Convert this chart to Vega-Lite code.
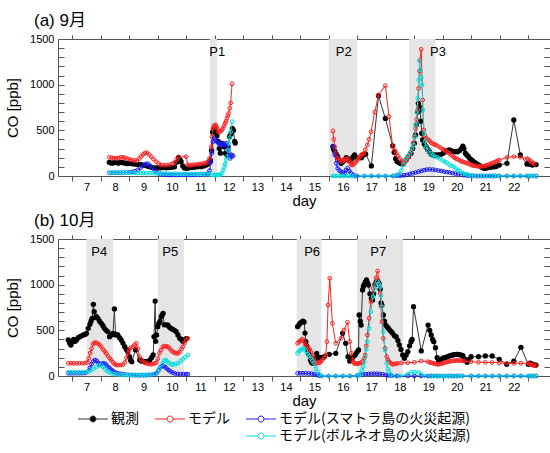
{
  "$schema": "https://vega.github.io/schema/vega-lite/v6.json",
  "padding": {"left": 5, "top": 11, "right": 0, "bottom": 0},
  "background": "white",
  "config": {
    "font": "Liberation Sans",
    "view": {"stroke": "#555555", "strokeWidth": 1},
    "axis": {"grid": false, "domain": false, "labelFont": "Liberation Sans", "labelFontSize": 11, "labelColor": "#000000", "tickColor": "#555555", "tickWidth": 1, "titleFont": "Liberation Sans", "titleFontSize": 15, "titleFontWeight": "normal", "titleColor": "#000000"},
    "title": {"font": "Liberation Sans, Noto Sans CJK JP", "fontSize": 17, "fontWeight": "normal", "anchor": "start", "frame": "group", "color": "#000000"},
    "legend": {"title": null, "orient": "none", "legendX": 16, "legendY": 373, "columns": 3, "direction": "horizontal",
               "symbolType": "M-5,0L-1,0M1,0L5,0M-1,0A1,1,0,1,0,1,0A1,1,0,1,0,-1,0", "symbolSize": 36, "symbolStrokeWidth": 1, "symbolOffset": 12,
               "labelOffset": 11, "labelFont": "Noto Sans CJK JP", "labelFontSize": 14, "labelColor": "#000000", "labelLimit": 400,
               "columnPadding": 12, "rowPadding": 3}
  },
  "datasets": {
    "sa": [
      {"d1": 11.83, "d2": 12.08, "lx": 12.09, "lab": "P1"},
      {"d1": 16.0, "d2": 17.0, "lx": 16.53, "lab": "P2"},
      {"d1": 18.83, "d2": 19.75, "lx": 19.84, "lab": "P3"}
    ],
    "sb": [
      {"d1": 7.5, "d2": 8.44, "lx": 7.95, "lab": "P4"},
      {"d1": 10.0, "d2": 10.92, "lx": 10.44, "lab": "P5"},
      {"d1": 14.88, "d2": 15.75, "lx": 15.42, "lab": "P6"},
      {"d1": 17.0, "d2": 18.61, "lx": 17.74, "lab": "P7"}
    ],
    "a": [
      {"s":"o","g":1,"d":8.30,"v":150},{"s":"o","g":1,"d":8.38,"v":140},{"s":"o","g":1,"d":8.46,"v":145},{"s":"o","g":1,"d":8.54,"v":150},{"s":"o","g":1,"d":8.62,"v":140},{"s":"o","g":1,"d":8.70,"v":150},{"s":"o","g":1,"d":8.78,"v":145},{"s":"o","g":1,"d":8.86,"v":140},{"s":"o","g":1,"d":8.94,"v":135},{"s":"o","g":1,"d":9.02,"v":140},{"s":"o","g":1,"d":9.10,"v":135},{"s":"o","g":1,"d":9.19,"v":131},{"s":"o","g":1,"d":9.27,"v":128},{"s":"o","g":1,"d":9.35,"v":125},{"s":"o","g":1,"d":9.42,"v":124},{"s":"o","g":1,"d":9.50,"v":118},{"s":"o","g":1,"d":9.60,"v":113},{"s":"o","g":1,"d":9.68,"v":105},{"s":"o","g":1,"d":9.77,"v":95},{"s":"o","g":1,"d":9.85,"v":90},{"s":"o","g":1,"d":9.93,"v":88},{"s":"o","g":1,"d":10.00,"v":88},{"s":"o","g":1,"d":10.10,"v":90},{"s":"o","g":1,"d":10.20,"v":92},{"s":"o","g":1,"d":10.30,"v":90},{"s":"o","g":1,"d":10.40,"v":92},{"s":"o","g":1,"d":10.50,"v":95},{"s":"o","g":1,"d":10.59,"v":100},{"s":"o","g":1,"d":10.66,"v":150},{"s":"o","g":1,"d":10.73,"v":204},{"s":"o","g":1,"d":10.78,"v":180},{"s":"o","g":1,"d":10.82,"v":157},{"s":"o","g":1,"d":10.88,"v":110},{"s":"o","g":1,"d":10.94,"v":88},{"s":"o","g":1,"d":11.02,"v":85},{"s":"o","g":1,"d":11.10,"v":90},{"s":"o","g":1,"d":11.18,"v":92},{"s":"o","g":1,"d":11.29,"v":95},{"s":"o","g":1,"d":11.40,"v":100},{"s":"o","g":1,"d":11.53,"v":102},{"s":"o","g":1,"d":11.62,"v":110},{"s":"o","g":1,"d":11.70,"v":120},{"s":"o","g":1,"d":11.76,"v":131},{"s":"o","g":1,"d":11.81,"v":150},{"s":"o","g":1,"d":11.85,"v":170},{"s":"o","g":1,"d":11.89,"v":280},{"s":"o","g":1,"d":11.93,"v":480},{"s":"o","g":1,"d":11.97,"v":510},{"s":"o","g":1,"d":12.00,"v":520},{"s":"o","g":1,"d":12.04,"v":480},{"s":"o","g":1,"d":12.08,"v":440},{"s":"o","g":1,"d":12.12,"v":380},{"s":"o","g":1,"d":12.16,"v":300},{"s":"o","g":1,"d":12.20,"v":250},{"s":"o","g":1,"d":12.24,"v":360},{"s":"o","g":1,"d":12.28,"v":340},{"s":"o","g":1,"d":12.33,"v":320},{"s":"o","g":1,"d":12.38,"v":250},{"s":"o","g":1,"d":12.43,"v":230},{"s":"o","g":1,"d":12.47,"v":320},{"s":"o","g":1,"d":12.52,"v":430},{"s":"o","g":1,"d":12.57,"v":460},{"s":"o","g":1,"d":12.62,"v":520},{"s":"o","g":1,"d":12.66,"v":500},{"s":"o","g":1,"d":12.70,"v":380},{"s":"o","g":1,"d":12.72,"v":360},
      {"s":"o","g":2,"d":16.15,"v":321},{"s":"o","g":2,"d":16.18,"v":290},{"s":"o","g":2,"d":16.22,"v":266},{"s":"o","g":2,"d":16.27,"v":240},{"s":"o","g":2,"d":16.32,"v":212},{"s":"o","g":2,"d":16.38,"v":170},{"s":"o","g":2,"d":16.44,"v":139},{"s":"o","g":2,"d":16.50,"v":160},{"s":"o","g":2,"d":16.56,"v":175},{"s":"o","g":2,"d":16.62,"v":200},{"s":"o","g":2,"d":16.66,"v":190},{"s":"o","g":2,"d":16.70,"v":175},{"s":"o","g":2,"d":16.75,"v":170},{"s":"o","g":2,"d":16.80,"v":185},{"s":"o","g":2,"d":16.86,"v":210},{"s":"o","g":2,"d":16.91,"v":230},{"s":"o","g":2,"d":16.96,"v":205},{"s":"o","g":2,"d":17.15,"v":200},{"s":"o","g":2,"d":17.22,"v":230},{"s":"o","g":2,"d":17.30,"v":240},{"s":"o","g":2,"d":17.50,"v":110},{"s":"o","g":2,"d":17.75,"v":880},{"s":"o","g":2,"d":17.99,"v":630},{"s":"o","g":2,"d":18.25,"v":330},{"s":"o","g":2,"d":18.30,"v":260},{"s":"o","g":2,"d":18.35,"v":190},{"s":"o","g":2,"d":18.40,"v":160},{"s":"o","g":2,"d":18.45,"v":150},{"s":"o","g":2,"d":18.50,"v":140},{"s":"o","g":2,"d":18.55,"v":135},{"s":"o","g":2,"d":18.60,"v":131},{"s":"o","g":2,"d":18.65,"v":150},{"s":"o","g":2,"d":18.72,"v":175},{"s":"o","g":2,"d":18.80,"v":210},{"s":"o","g":2,"d":18.89,"v":248},{"s":"o","g":2,"d":18.95,"v":300},{"s":"o","g":2,"d":19.01,"v":358},{"s":"o","g":2,"d":19.05,"v":450},{"s":"o","g":2,"d":19.08,"v":560},{"s":"o","g":2,"d":19.12,"v":700},{"s":"o","g":2,"d":19.15,"v":796},{"s":"o","g":2,"d":19.18,"v":760},{"s":"o","g":2,"d":19.21,"v":723},{"s":"o","g":2,"d":19.24,"v":600},{"s":"o","g":2,"d":19.27,"v":467},{"s":"o","g":2,"d":19.30,"v":394},{"s":"o","g":2,"d":19.36,"v":350},{"s":"o","g":2,"d":19.42,"v":321},{"s":"o","g":2,"d":19.48,"v":290},{"s":"o","g":2,"d":19.54,"v":266},{"s":"o","g":2,"d":19.60,"v":240},{"s":"o","g":2,"d":19.66,"v":230},{"s":"o","g":2,"d":19.72,"v":225},{"s":"o","g":2,"d":19.77,"v":230},{"s":"o","g":2,"d":19.85,"v":230},{"s":"o","g":2,"d":19.92,"v":235},{"s":"o","g":2,"d":20.00,"v":245},{"s":"o","g":2,"d":20.06,"v":260},{"s":"o","g":2,"d":20.12,"v":275},{"s":"o","g":2,"d":20.18,"v":280},{"s":"o","g":2,"d":20.24,"v":285},{"s":"o","g":2,"d":20.30,"v":275},{"s":"o","g":2,"d":20.36,"v":270},{"s":"o","g":2,"d":20.42,"v":266},{"s":"o","g":2,"d":20.47,"v":266},{"s":"o","g":2,"d":20.53,"v":266},{"s":"o","g":2,"d":20.60,"v":280},{"s":"o","g":2,"d":20.66,"v":300},{"s":"o","g":2,"d":20.71,"v":328},{"s":"o","g":2,"d":20.75,"v":300},{"s":"o","g":2,"d":20.80,"v":250},{"s":"o","g":2,"d":20.85,"v":230},{"s":"o","g":2,"d":20.90,"v":215},{"s":"o","g":2,"d":20.95,"v":193},{"s":"o","g":2,"d":21.00,"v":180},{"s":"o","g":2,"d":21.06,"v":165},{"s":"o","g":2,"d":21.12,"v":150},{"s":"o","g":2,"d":21.18,"v":139},{"s":"o","g":2,"d":21.24,"v":125},{"s":"o","g":2,"d":21.29,"v":115},{"s":"o","g":2,"d":21.35,"v":100},{"s":"o","g":2,"d":21.41,"v":90},{"s":"o","g":2,"d":21.47,"v":84},{"s":"o","g":2,"d":21.53,"v":88},{"s":"o","g":2,"d":21.59,"v":90},{"s":"o","g":2,"d":21.65,"v":95},{"s":"o","g":2,"d":21.71,"v":98},{"s":"o","g":2,"d":21.76,"v":100},{"s":"o","g":2,"d":21.82,"v":102},{"s":"o","g":2,"d":21.88,"v":105},{"s":"o","g":2,"d":21.99,"v":120},{"s":"o","g":2,"d":22.26,"v":139},{"s":"o","g":2,"d":22.50,"v":613},{"s":"o","g":2,"d":22.73,"v":230},{"s":"o","g":2,"d":22.96,"v":131},{"s":"o","g":2,"d":23.01,"v":140},{"s":"o","g":2,"d":23.06,"v":130},{"s":"o","g":2,"d":23.11,"v":125},{"s":"o","g":2,"d":23.16,"v":120},{"s":"o","g":2,"d":23.22,"v":131},{"s":"o","g":2,"d":23.28,"v":125},
      {"s":"m","g":1,"d":8.30,"v":204},{"s":"m","g":1,"d":8.38,"v":200},{"s":"m","g":1,"d":8.46,"v":195},{"s":"m","g":1,"d":8.54,"v":193},{"s":"m","g":1,"d":8.62,"v":198},{"s":"m","g":1,"d":8.70,"v":204},{"s":"m","g":1,"d":8.78,"v":204},{"s":"m","g":1,"d":8.86,"v":200},{"s":"m","g":1,"d":8.94,"v":190},{"s":"m","g":1,"d":9.02,"v":180},{"s":"m","g":1,"d":9.10,"v":175},{"s":"m","g":1,"d":9.19,"v":170},{"s":"m","g":1,"d":9.27,"v":168},{"s":"m","g":1,"d":9.35,"v":190},{"s":"m","g":1,"d":9.42,"v":215},{"s":"m","g":1,"d":9.48,"v":235},{"s":"m","g":1,"d":9.55,"v":250},{"s":"m","g":1,"d":9.62,"v":255},{"s":"m","g":1,"d":9.70,"v":235},{"s":"m","g":1,"d":9.77,"v":212},{"s":"m","g":1,"d":9.85,"v":185},{"s":"m","g":1,"d":9.95,"v":157},{"s":"m","g":1,"d":10.04,"v":135},{"s":"m","g":1,"d":10.12,"v":120},{"s":"m","g":1,"d":10.22,"v":118},{"s":"m","g":1,"d":10.32,"v":120},{"s":"m","g":1,"d":10.42,"v":125},{"s":"m","g":1,"d":10.52,"v":135},{"s":"m","g":1,"d":10.59,"v":146},{"s":"m","g":1,"d":10.66,"v":180},{"s":"m","g":1,"d":10.73,"v":208},{"s":"m","g":1,"d":11.00,"v":212},{"s":"m","g":1,"d":11.06,"v":120},{"s":"m","g":1,"d":11.12,"v":118},{"s":"m","g":1,"d":11.18,"v":120},{"s":"m","g":1,"d":11.25,"v":122},{"s":"m","g":1,"d":11.33,"v":125},{"s":"m","g":1,"d":11.41,"v":128},{"s":"m","g":1,"d":11.48,"v":132},{"s":"m","g":1,"d":11.56,"v":135},{"s":"m","g":1,"d":11.64,"v":139},{"s":"m","g":1,"d":11.70,"v":145},{"s":"m","g":1,"d":11.76,"v":157},{"s":"m","g":1,"d":11.82,"v":193},{"s":"m","g":1,"d":11.88,"v":321},{"s":"m","g":1,"d":11.91,"v":431},{"s":"m","g":1,"d":11.94,"v":520},{"s":"m","g":1,"d":11.97,"v":547},{"s":"m","g":1,"d":12.00,"v":555},{"s":"m","g":1,"d":12.03,"v":558},{"s":"m","g":1,"d":12.06,"v":540},{"s":"m","g":1,"d":12.09,"v":522},{"s":"m","g":1,"d":12.13,"v":485},{"s":"m","g":1,"d":12.17,"v":480},{"s":"m","g":1,"d":12.21,"v":490},{"s":"m","g":1,"d":12.25,"v":505},{"s":"m","g":1,"d":12.29,"v":522},{"s":"m","g":1,"d":12.33,"v":550},{"s":"m","g":1,"d":12.37,"v":577},{"s":"m","g":1,"d":12.40,"v":600},{"s":"m","g":1,"d":12.43,"v":632},{"s":"m","g":1,"d":12.46,"v":660},{"s":"m","g":1,"d":12.49,"v":686},{"s":"m","g":1,"d":12.53,"v":741},{"s":"m","g":1,"d":12.56,"v":800},{"s":"m","g":1,"d":12.61,"v":1010},
      {"s":"m","g":2,"d":16.15,"v":495},{"s":"m","g":2,"d":16.18,"v":400},{"s":"m","g":2,"d":16.21,"v":321},{"s":"m","g":2,"d":16.25,"v":248},{"s":"m","g":2,"d":16.30,"v":200},{"s":"m","g":2,"d":16.35,"v":193},{"s":"m","g":2,"d":16.40,"v":175},{"s":"m","g":2,"d":16.45,"v":157},{"s":"m","g":2,"d":16.50,"v":165},{"s":"m","g":2,"d":16.55,"v":175},{"s":"m","g":2,"d":16.61,"v":185},{"s":"m","g":2,"d":16.65,"v":193},{"s":"m","g":2,"d":16.70,"v":175},{"s":"m","g":2,"d":16.74,"v":157},{"s":"m","g":2,"d":16.78,"v":130},{"s":"m","g":2,"d":16.82,"v":120},{"s":"m","g":2,"d":16.86,"v":125},{"s":"m","g":2,"d":16.90,"v":135},{"s":"m","g":2,"d":16.95,"v":150},{"s":"m","g":2,"d":17.00,"v":170},{"s":"m","g":2,"d":17.04,"v":190},{"s":"m","g":2,"d":17.08,"v":212},{"s":"m","g":2,"d":17.13,"v":225},{"s":"m","g":2,"d":17.18,"v":240},{"s":"m","g":2,"d":17.24,"v":248},{"s":"m","g":2,"d":17.29,"v":290},{"s":"m","g":2,"d":17.36,"v":340},{"s":"m","g":2,"d":17.42,"v":400},{"s":"m","g":2,"d":17.49,"v":485},{"s":"m","g":2,"d":17.62,"v":700},{"s":"m","g":2,"d":17.75,"v":887},{"s":"m","g":2,"d":17.99,"v":990},{"s":"m","g":2,"d":18.12,"v":650},{"s":"m","g":2,"d":18.25,"v":321},{"s":"m","g":2,"d":18.32,"v":280},{"s":"m","g":2,"d":18.38,"v":250},{"s":"m","g":2,"d":18.44,"v":220},{"s":"m","g":2,"d":18.50,"v":190},{"s":"m","g":2,"d":18.56,"v":165},{"s":"m","g":2,"d":18.62,"v":150},{"s":"m","g":2,"d":18.66,"v":140},{"s":"m","g":2,"d":18.70,"v":160},{"s":"m","g":2,"d":18.74,"v":180},{"s":"m","g":2,"d":18.78,"v":200},{"s":"m","g":2,"d":18.83,"v":225},{"s":"m","g":2,"d":18.88,"v":260},{"s":"m","g":2,"d":18.93,"v":300},{"s":"m","g":2,"d":18.97,"v":360},{"s":"m","g":2,"d":19.01,"v":430},{"s":"m","g":2,"d":19.05,"v":520},{"s":"m","g":2,"d":19.09,"v":620},{"s":"m","g":2,"d":19.13,"v":723},{"s":"m","g":2,"d":19.16,"v":960},{"s":"m","g":2,"d":19.19,"v":1150},{"s":"m","g":2,"d":19.21,"v":1270},{"s":"m","g":2,"d":19.25,"v":1387},{"s":"m","g":2,"d":19.30,"v":832},{"s":"m","g":2,"d":19.34,"v":504},{"s":"m","g":2,"d":19.38,"v":440},{"s":"m","g":2,"d":19.42,"v":413},{"s":"m","g":2,"d":19.48,"v":400},{"s":"m","g":2,"d":19.54,"v":385},{"s":"m","g":2,"d":19.60,"v":365},{"s":"m","g":2,"d":19.66,"v":355},{"s":"m","g":2,"d":19.72,"v":345},{"s":"m","g":2,"d":19.77,"v":339},{"s":"m","g":2,"d":19.85,"v":325},{"s":"m","g":2,"d":19.92,"v":310},{"s":"m","g":2,"d":20.00,"v":295},{"s":"m","g":2,"d":20.06,"v":285},{"s":"m","g":2,"d":20.12,"v":270},{"s":"m","g":2,"d":20.18,"v":258},{"s":"m","g":2,"d":20.24,"v":248},{"s":"m","g":2,"d":20.30,"v":230},{"s":"m","g":2,"d":20.36,"v":215},{"s":"m","g":2,"d":20.42,"v":200},{"s":"m","g":2,"d":20.48,"v":190},{"s":"m","g":2,"d":20.53,"v":182},{"s":"m","g":2,"d":20.60,"v":170},{"s":"m","g":2,"d":20.66,"v":162},{"s":"m","g":2,"d":20.72,"v":155},{"s":"m","g":2,"d":20.78,"v":148},{"s":"m","g":2,"d":20.84,"v":142},{"s":"m","g":2,"d":20.90,"v":136},{"s":"m","g":2,"d":20.96,"v":128},{"s":"m","g":2,"d":21.02,"v":120},{"s":"m","g":2,"d":21.08,"v":114},{"s":"m","g":2,"d":21.14,"v":110},{"s":"m","g":2,"d":21.20,"v":108},{"s":"m","g":2,"d":21.26,"v":106},{"s":"m","g":2,"d":21.32,"v":105},{"s":"m","g":2,"d":21.38,"v":106},{"s":"m","g":2,"d":21.44,"v":108},{"s":"m","g":2,"d":21.50,"v":112},{"s":"m","g":2,"d":21.56,"v":118},{"s":"m","g":2,"d":21.62,"v":125},{"s":"m","g":2,"d":21.68,"v":132},{"s":"m","g":2,"d":21.74,"v":140},{"s":"m","g":2,"d":21.80,"v":148},{"s":"m","g":2,"d":21.86,"v":156},{"s":"m","g":2,"d":21.92,"v":165},{"s":"m","g":2,"d":21.99,"v":175},{"s":"m","g":2,"d":22.26,"v":204},{"s":"m","g":2,"d":22.50,"v":212},{"s":"m","g":2,"d":22.73,"v":205},{"s":"m","g":2,"d":22.96,"v":190},{"s":"m","g":2,"d":23.01,"v":182},{"s":"m","g":2,"d":23.06,"v":170},{"s":"m","g":2,"d":23.11,"v":158},{"s":"m","g":2,"d":23.16,"v":145},{"s":"m","g":2,"d":23.22,"v":131},
      {"s":"s","g":1,"d":8.3,"v":35},{"s":"s","g":1,"d":8.4,"v":35},{"s":"s","g":1,"d":8.5,"v":35},{"s":"s","g":1,"d":8.6,"v":35},{"s":"s","g":1,"d":8.7,"v":35},{"s":"s","g":1,"d":8.8,"v":36},{"s":"s","g":1,"d":8.9,"v":38},{"s":"s","g":1,"d":9.0,"v":41},{"s":"s","g":1,"d":9.1,"v":45},{"s":"s","g":1,"d":9.2,"v":52},{"s":"s","g":1,"d":9.3,"v":68},{"s":"s","g":1,"d":9.4,"v":90},{"s":"s","g":1,"d":9.5,"v":115},{"s":"s","g":1,"d":9.58,"v":132},{"s":"s","g":1,"d":9.65,"v":135},{"s":"s","g":1,"d":9.72,"v":115},{"s":"s","g":1,"d":9.8,"v":90},{"s":"s","g":1,"d":9.9,"v":55},{"s":"s","g":1,"d":10.0,"v":32},{"s":"s","g":1,"d":10.1,"v":22},{"s":"s","g":1,"d":10.2,"v":15},{"s":"s","g":1,"d":10.3,"v":13},{"s":"s","g":1,"d":10.4,"v":12},{"s":"s","g":1,"d":10.5,"v":12},{"s":"s","g":1,"d":10.6,"v":12},{"s":"s","g":1,"d":10.7,"v":12},{"s":"s","g":1,"d":10.8,"v":12},{"s":"s","g":1,"d":10.9,"v":12},{"s":"s","g":1,"d":11.0,"v":12},{"s":"s","g":1,"d":11.1,"v":12},{"s":"s","g":1,"d":11.2,"v":12},{"s":"s","g":1,"d":11.3,"v":13},{"s":"s","g":1,"d":11.4,"v":15},{"s":"s","g":1,"d":11.5,"v":16},{"s":"s","g":1,"d":11.6,"v":18},{"s":"s","g":1,"d":11.7,"v":22},{"s":"s","g":1,"d":11.76,"v":25},{"s":"s","g":1,"d":11.82,"v":60},{"s":"s","g":1,"d":11.86,"v":150},{"s":"s","g":1,"d":11.90,"v":250},{"s":"s","g":1,"d":11.94,"v":376},{"s":"s","g":1,"d":11.98,"v":412},{"s":"s","g":1,"d":12.02,"v":400},{"s":"s","g":1,"d":12.06,"v":385},{"s":"s","g":1,"d":12.10,"v":370},{"s":"s","g":1,"d":12.15,"v":350},{"s":"s","g":1,"d":12.20,"v":339},{"s":"s","g":1,"d":12.25,"v":350},{"s":"s","g":1,"d":12.30,"v":340},{"s":"s","g":1,"d":12.35,"v":350},{"s":"s","g":1,"d":12.40,"v":360},{"s":"s","g":1,"d":12.44,"v":330},{"s":"s","g":1,"d":12.48,"v":290},{"s":"s","g":1,"d":12.52,"v":248},{"s":"s","g":1,"d":12.55,"v":193},{"s":"s","g":1,"d":12.58,"v":212},{"s":"s","g":1,"d":12.61,"v":230},{"s":"s","g":1,"d":12.65,"v":220},
      {"s":"s","g":2,"d":16.15,"v":328},{"s":"s","g":2,"d":16.21,"v":230},{"s":"s","g":2,"d":16.27,"v":139},{"s":"s","g":2,"d":16.32,"v":84},{"s":"s","g":2,"d":16.38,"v":60},{"s":"s","g":2,"d":16.44,"v":47},{"s":"s","g":2,"d":16.50,"v":35},{"s":"s","g":2,"d":16.56,"v":29},{"s":"s","g":2,"d":16.61,"v":66},{"s":"s","g":2,"d":16.67,"v":84},{"s":"s","g":2,"d":16.73,"v":55},{"s":"s","g":2,"d":16.79,"v":29},{"s":"s","g":2,"d":16.85,"v":11},{"s":"s","g":2,"d":16.90,"v":3},{"s":"s","g":2,"d":16.95,"v":0},{"s":"s","g":2,"d":17.0,"v":0},{"s":"s","g":2,"d":17.25,"v":0},{"s":"s","g":2,"d":17.5,"v":0},{"s":"s","g":2,"d":17.75,"v":0},{"s":"s","g":2,"d":18.0,"v":0},{"s":"s","g":2,"d":18.25,"v":0},{"s":"s","g":2,"d":18.35,"v":1},{"s":"s","g":2,"d":18.45,"v":3},{"s":"s","g":2,"d":18.55,"v":5},{"s":"s","g":2,"d":18.65,"v":8},{"s":"s","g":2,"d":18.75,"v":13},{"s":"s","g":2,"d":18.85,"v":22},{"s":"s","g":2,"d":18.95,"v":30},{"s":"s","g":2,"d":19.05,"v":38},{"s":"s","g":2,"d":19.15,"v":47},{"s":"s","g":2,"d":19.25,"v":56},{"s":"s","g":2,"d":19.35,"v":64},{"s":"s","g":2,"d":19.45,"v":70},{"s":"s","g":2,"d":19.55,"v":72},{"s":"s","g":2,"d":19.65,"v":70},{"s":"s","g":2,"d":19.75,"v":66},{"s":"s","g":2,"d":19.85,"v":60},{"s":"s","g":2,"d":19.95,"v":55},{"s":"s","g":2,"d":20.05,"v":48},{"s":"s","g":2,"d":20.15,"v":43},{"s":"s","g":2,"d":20.25,"v":38},{"s":"s","g":2,"d":20.35,"v":32},{"s":"s","g":2,"d":20.45,"v":26},{"s":"s","g":2,"d":20.55,"v":20},{"s":"s","g":2,"d":20.65,"v":15},{"s":"s","g":2,"d":20.75,"v":9},{"s":"s","g":2,"d":20.85,"v":5},{"s":"s","g":2,"d":20.95,"v":2},{"s":"s","g":2,"d":21.05,"v":0},{"s":"s","g":2,"d":21.15,"v":0},{"s":"s","g":2,"d":21.25,"v":0},{"s":"s","g":2,"d":21.35,"v":0},{"s":"s","g":2,"d":21.45,"v":0},{"s":"s","g":2,"d":21.55,"v":0},{"s":"s","g":2,"d":21.65,"v":0},{"s":"s","g":2,"d":21.75,"v":0},{"s":"s","g":2,"d":21.85,"v":0},{"s":"s","g":2,"d":21.99,"v":0},{"s":"s","g":2,"d":22.26,"v":0},{"s":"s","g":2,"d":22.50,"v":0},{"s":"s","g":2,"d":22.73,"v":0},{"s":"s","g":2,"d":22.96,"v":0},{"s":"s","g":2,"d":23.06,"v":0},{"s":"s","g":2,"d":23.16,"v":0},{"s":"s","g":2,"d":23.28,"v":0},
      {"s":"b","g":1,"d":8.3,"v":37},{"s":"b","g":1,"d":8.4,"v":37},{"s":"b","g":1,"d":8.5,"v":37},{"s":"b","g":1,"d":8.6,"v":37},{"s":"b","g":1,"d":8.7,"v":37},{"s":"b","g":1,"d":8.8,"v":37},{"s":"b","g":1,"d":8.9,"v":37},{"s":"b","g":1,"d":9.0,"v":36},{"s":"b","g":1,"d":9.1,"v":36},{"s":"b","g":1,"d":9.2,"v":35},{"s":"b","g":1,"d":9.3,"v":34},{"s":"b","g":1,"d":9.4,"v":33},{"s":"b","g":1,"d":9.5,"v":33},{"s":"b","g":1,"d":9.6,"v":32},{"s":"b","g":1,"d":9.7,"v":31},{"s":"b","g":1,"d":9.8,"v":30},{"s":"b","g":1,"d":9.9,"v":29},{"s":"b","g":1,"d":10.0,"v":28},{"s":"b","g":1,"d":10.1,"v":28},{"s":"b","g":1,"d":10.2,"v":27},{"s":"b","g":1,"d":10.3,"v":26},{"s":"b","g":1,"d":10.4,"v":25},{"s":"b","g":1,"d":10.5,"v":24},{"s":"b","g":1,"d":10.6,"v":23},{"s":"b","g":1,"d":10.7,"v":22},{"s":"b","g":1,"d":10.8,"v":22},{"s":"b","g":1,"d":10.9,"v":22},{"s":"b","g":1,"d":11.0,"v":22},{"s":"b","g":1,"d":11.1,"v":22},{"s":"b","g":1,"d":11.2,"v":22},{"s":"b","g":1,"d":11.3,"v":22},{"s":"b","g":1,"d":11.4,"v":22},{"s":"b","g":1,"d":11.5,"v":22},{"s":"b","g":1,"d":11.6,"v":22},{"s":"b","g":1,"d":11.7,"v":21},{"s":"b","g":1,"d":11.8,"v":20},{"s":"b","g":1,"d":11.9,"v":15},{"s":"b","g":1,"d":12.0,"v":11},{"s":"b","g":1,"d":12.05,"v":11},{"s":"b","g":1,"d":12.1,"v":11},{"s":"b","g":1,"d":12.15,"v":12},{"s":"b","g":1,"d":12.2,"v":15},{"s":"b","g":1,"d":12.26,"v":30},{"s":"b","g":1,"d":12.30,"v":66},{"s":"b","g":1,"d":12.34,"v":102},{"s":"b","g":1,"d":12.37,"v":130},{"s":"b","g":1,"d":12.40,"v":175},{"s":"b","g":1,"d":12.44,"v":212},{"s":"b","g":1,"d":12.47,"v":280},{"s":"b","g":1,"d":12.50,"v":358},{"s":"b","g":1,"d":12.53,"v":420},{"s":"b","g":1,"d":12.56,"v":485},{"s":"b","g":1,"d":12.61,"v":595},
      {"s":"b","g":2,"d":16.15,"v":0},{"s":"b","g":2,"d":16.2,"v":0},{"s":"b","g":2,"d":16.3,"v":0},{"s":"b","g":2,"d":16.4,"v":0},{"s":"b","g":2,"d":16.5,"v":0},{"s":"b","g":2,"d":16.6,"v":0},{"s":"b","g":2,"d":16.7,"v":0},{"s":"b","g":2,"d":16.8,"v":0},{"s":"b","g":2,"d":16.9,"v":0},{"s":"b","g":2,"d":17.0,"v":0},{"s":"b","g":2,"d":17.25,"v":0},{"s":"b","g":2,"d":17.5,"v":0},{"s":"b","g":2,"d":17.75,"v":0},{"s":"b","g":2,"d":18.0,"v":0},{"s":"b","g":2,"d":18.25,"v":0},{"s":"b","g":2,"d":18.35,"v":5},{"s":"b","g":2,"d":18.45,"v":20},{"s":"b","g":2,"d":18.55,"v":60},{"s":"b","g":2,"d":18.62,"v":120},{"s":"b","g":2,"d":18.68,"v":160},{"s":"b","g":2,"d":18.72,"v":193},{"s":"b","g":2,"d":18.78,"v":220},{"s":"b","g":2,"d":18.85,"v":250},{"s":"b","g":2,"d":18.92,"v":300},{"s":"b","g":2,"d":18.98,"v":340},{"s":"b","g":2,"d":19.03,"v":430},{"s":"b","g":2,"d":19.07,"v":558},{"s":"b","g":2,"d":19.10,"v":700},{"s":"b","g":2,"d":19.13,"v":851},{"s":"b","g":2,"d":19.16,"v":1050},{"s":"b","g":2,"d":19.19,"v":1263},{"s":"b","g":2,"d":19.22,"v":1161},{"s":"b","g":2,"d":19.25,"v":1080},{"s":"b","g":2,"d":19.28,"v":997},{"s":"b","g":2,"d":19.31,"v":723},{"s":"b","g":2,"d":19.35,"v":467},{"s":"b","g":2,"d":19.38,"v":380},{"s":"b","g":2,"d":19.42,"v":321},{"s":"b","g":2,"d":19.50,"v":280},{"s":"b","g":2,"d":19.58,"v":250},{"s":"b","g":2,"d":19.65,"v":230},{"s":"b","g":2,"d":19.72,"v":215},{"s":"b","g":2,"d":19.80,"v":205},{"s":"b","g":2,"d":19.90,"v":190},{"s":"b","g":2,"d":20.00,"v":170},{"s":"b","g":2,"d":20.08,"v":155},{"s":"b","g":2,"d":20.15,"v":145},{"s":"b","g":2,"d":20.24,"v":125},{"s":"b","g":2,"d":20.32,"v":110},{"s":"b","g":2,"d":20.40,"v":100},{"s":"b","g":2,"d":20.48,"v":80},{"s":"b","g":2,"d":20.55,"v":62},{"s":"b","g":2,"d":20.62,"v":48},{"s":"b","g":2,"d":20.70,"v":32},{"s":"b","g":2,"d":20.78,"v":24},{"s":"b","g":2,"d":20.85,"v":18},{"s":"b","g":2,"d":20.92,"v":10},{"s":"b","g":2,"d":21.00,"v":6},{"s":"b","g":2,"d":21.10,"v":2},{"s":"b","g":2,"d":21.2,"v":0},{"s":"b","g":2,"d":21.3,"v":0},{"s":"b","g":2,"d":21.4,"v":0},{"s":"b","g":2,"d":21.5,"v":0},{"s":"b","g":2,"d":21.6,"v":0},{"s":"b","g":2,"d":21.7,"v":0},{"s":"b","g":2,"d":21.8,"v":0},{"s":"b","g":2,"d":21.9,"v":0},{"s":"b","g":2,"d":21.99,"v":0},{"s":"b","g":2,"d":22.26,"v":0},{"s":"b","g":2,"d":22.50,"v":0},{"s":"b","g":2,"d":22.73,"v":0},{"s":"b","g":2,"d":22.96,"v":0},{"s":"b","g":2,"d":23.06,"v":0},{"s":"b","g":2,"d":23.16,"v":0},{"s":"b","g":2,"d":23.28,"v":0}
    ],
    "b": [
      {"s":"o","g":1,"d":6.86,"v":394},{"s":"o","g":1,"d":6.91,"v":360},{"s":"o","g":1,"d":6.95,"v":339},{"s":"o","g":1,"d":7.00,"v":370},{"s":"o","g":1,"d":7.05,"v":400},{"s":"o","g":1,"d":7.10,"v":380},{"s":"o","g":1,"d":7.15,"v":394},{"s":"o","g":1,"d":7.21,"v":420},{"s":"o","g":1,"d":7.27,"v":431},{"s":"o","g":1,"d":7.33,"v":440},{"s":"o","g":1,"d":7.39,"v":449},{"s":"o","g":1,"d":7.45,"v":455},{"s":"o","g":1,"d":7.50,"v":467},{"s":"o","g":1,"d":7.56,"v":522},{"s":"o","g":1,"d":7.62,"v":566},{"s":"o","g":1,"d":7.66,"v":600},{"s":"o","g":1,"d":7.70,"v":631},{"s":"o","g":1,"d":7.74,"v":785},{"s":"o","g":1,"d":7.77,"v":704},{"s":"o","g":1,"d":7.80,"v":640},{"s":"o","g":1,"d":7.85,"v":650},{"s":"o","g":1,"d":7.90,"v":631},{"s":"o","g":1,"d":7.96,"v":600},{"s":"o","g":1,"d":8.02,"v":577},{"s":"o","g":1,"d":8.08,"v":550},{"s":"o","g":1,"d":8.13,"v":522},{"s":"o","g":1,"d":8.19,"v":500},{"s":"o","g":1,"d":8.25,"v":485},{"s":"o","g":1,"d":8.31,"v":431},{"s":"o","g":1,"d":8.37,"v":450},{"s":"o","g":1,"d":8.43,"v":467},{"s":"o","g":1,"d":8.48,"v":734},{"s":"o","g":1,"d":8.52,"v":450},{"s":"o","g":1,"d":8.56,"v":455},{"s":"o","g":1,"d":8.60,"v":449},{"s":"o","g":1,"d":8.66,"v":420},{"s":"o","g":1,"d":8.72,"v":394},{"s":"o","g":1,"d":8.78,"v":360},{"s":"o","g":1,"d":8.84,"v":321},{"s":"o","g":1,"d":8.90,"v":290},{"s":"o","g":1,"d":8.95,"v":266},{"s":"o","g":1,"d":9.01,"v":212},{"s":"o","g":1,"d":9.05,"v":170},{"s":"o","g":1,"d":9.09,"v":157},{"s":"o","g":1,"d":9.22,"v":285},{"s":"o","g":1,"d":9.37,"v":175},{"s":"o","g":1,"d":9.43,"v":165},{"s":"o","g":1,"d":9.48,"v":160},{"s":"o","g":1,"d":9.55,"v":157},{"s":"o","g":1,"d":9.60,"v":157},{"s":"o","g":1,"d":9.66,"v":160},{"s":"o","g":1,"d":9.72,"v":170},{"s":"o","g":1,"d":9.78,"v":200},{"s":"o","g":1,"d":9.84,"v":230},{"s":"o","g":1,"d":9.87,"v":431},{"s":"o","g":1,"d":9.91,"v":820},{"s":"o","g":1,"d":9.93,"v":380},{"s":"o","g":1,"d":9.96,"v":449},{"s":"o","g":1,"d":10.00,"v":540},{"s":"o","g":1,"d":10.04,"v":577},{"s":"o","g":1,"d":10.08,"v":600},{"s":"o","g":1,"d":10.12,"v":649},{"s":"o","g":1,"d":10.16,"v":668},{"s":"o","g":1,"d":10.19,"v":686},{"s":"o","g":1,"d":10.23,"v":560},{"s":"o","g":1,"d":10.30,"v":560},{"s":"o","g":1,"d":10.36,"v":558},{"s":"o","g":1,"d":10.42,"v":530},{"s":"o","g":1,"d":10.47,"v":522},{"s":"o","g":1,"d":10.53,"v":510},{"s":"o","g":1,"d":10.59,"v":500},{"s":"o","g":1,"d":10.65,"v":485},{"s":"o","g":1,"d":10.71,"v":450},{"s":"o","g":1,"d":10.77,"v":413},{"s":"o","g":1,"d":10.83,"v":400},{"s":"o","g":1,"d":10.88,"v":380},{"s":"o","g":1,"d":10.94,"v":394},{"s":"o","g":1,"d":11.00,"v":410},
      {"s":"o","g":2,"d":14.91,"v":540},{"s":"o","g":2,"d":14.96,"v":560},{"s":"o","g":2,"d":15.00,"v":580},{"s":"o","g":2,"d":15.05,"v":590},{"s":"o","g":2,"d":15.10,"v":600},{"s":"o","g":2,"d":15.14,"v":590},{"s":"o","g":2,"d":15.17,"v":470},{"s":"o","g":2,"d":15.20,"v":376},{"s":"o","g":2,"d":15.23,"v":330},{"s":"o","g":2,"d":15.26,"v":285},{"s":"o","g":2,"d":15.29,"v":250},{"s":"o","g":2,"d":15.32,"v":230},{"s":"o","g":2,"d":15.36,"v":175},{"s":"o","g":2,"d":15.40,"v":150},{"s":"o","g":2,"d":15.43,"v":139},{"s":"o","g":2,"d":15.47,"v":150},{"s":"o","g":2,"d":15.51,"v":170},{"s":"o","g":2,"d":15.55,"v":200},{"s":"o","g":2,"d":15.58,"v":248},{"s":"o","g":2,"d":15.62,"v":210},{"s":"o","g":2,"d":15.67,"v":194},{"s":"o","g":2,"d":15.73,"v":200},{"s":"o","g":2,"d":15.79,"v":205},{"s":"o","g":2,"d":15.85,"v":212},{"s":"o","g":2,"d":16.02,"v":237},{"s":"o","g":2,"d":16.25,"v":248},{"s":"o","g":2,"d":16.49,"v":467},{"s":"o","g":2,"d":16.60,"v":358},{"s":"o","g":2,"d":16.68,"v":212},{"s":"o","g":2,"d":16.74,"v":164},{"s":"o","g":2,"d":16.80,"v":190},{"s":"o","g":2,"d":16.86,"v":210},{"s":"o","g":2,"d":16.93,"v":230},{"s":"o","g":2,"d":16.99,"v":260},{"s":"o","g":2,"d":17.05,"v":285},{"s":"o","g":2,"d":17.07,"v":668},{"s":"o","g":2,"d":17.11,"v":600},{"s":"o","g":2,"d":17.14,"v":558},{"s":"o","g":2,"d":17.19,"v":942},{"s":"o","g":2,"d":17.22,"v":980},{"s":"o","g":2,"d":17.25,"v":1004},{"s":"o","g":2,"d":17.29,"v":1030},{"s":"o","g":2,"d":17.33,"v":1051},{"s":"o","g":2,"d":17.37,"v":1020},{"s":"o","g":2,"d":17.40,"v":996},{"s":"o","g":2,"d":17.45,"v":900},{"s":"o","g":2,"d":17.50,"v":850},{"s":"o","g":2,"d":17.54,"v":832},{"s":"o","g":2,"d":17.58,"v":900},{"s":"o","g":2,"d":17.63,"v":1000},{"s":"o","g":2,"d":17.67,"v":1030},{"s":"o","g":2,"d":17.72,"v":1040},{"s":"o","g":2,"d":17.77,"v":1015},{"s":"o","g":2,"d":17.81,"v":950},{"s":"o","g":2,"d":17.84,"v":800},{"s":"o","g":2,"d":17.87,"v":777},{"s":"o","g":2,"d":17.92,"v":668},{"s":"o","g":2,"d":17.96,"v":600},{"s":"o","g":2,"d":18.00,"v":558},{"s":"o","g":2,"d":18.05,"v":540},{"s":"o","g":2,"d":18.10,"v":522},{"s":"o","g":2,"d":18.15,"v":500},{"s":"o","g":2,"d":18.20,"v":485},{"s":"o","g":2,"d":18.25,"v":467},{"s":"o","g":2,"d":18.31,"v":440},{"s":"o","g":2,"d":18.37,"v":431},{"s":"o","g":2,"d":18.43,"v":390},{"s":"o","g":2,"d":18.48,"v":340},{"s":"o","g":2,"d":18.54,"v":290},{"s":"o","g":2,"d":18.60,"v":230},{"s":"o","g":2,"d":18.66,"v":194},{"s":"o","g":2,"d":18.72,"v":230},{"s":"o","g":2,"d":18.78,"v":266},{"s":"o","g":2,"d":18.84,"v":330},{"s":"o","g":2,"d":18.89,"v":376},{"s":"o","g":2,"d":18.93,"v":400},{"s":"o","g":2,"d":18.98,"v":759},{"s":"o","g":2,"d":19.25,"v":274},{"s":"o","g":2,"d":19.49,"v":558},{"s":"o","g":2,"d":19.55,"v":500},{"s":"o","g":2,"d":19.60,"v":449},{"s":"o","g":2,"d":19.65,"v":400},{"s":"o","g":2,"d":19.69,"v":376},{"s":"o","g":2,"d":19.75,"v":310},{"s":"o","g":2,"d":19.81,"v":201},{"s":"o","g":2,"d":19.86,"v":170},{"s":"o","g":2,"d":19.89,"v":164},{"s":"o","g":2,"d":19.94,"v":180},{"s":"o","g":2,"d":20.00,"v":194},{"s":"o","g":2,"d":20.06,"v":200},{"s":"o","g":2,"d":20.12,"v":205},{"s":"o","g":2,"d":20.18,"v":212},{"s":"o","g":2,"d":20.24,"v":220},{"s":"o","g":2,"d":20.30,"v":225},{"s":"o","g":2,"d":20.36,"v":230},{"s":"o","g":2,"d":20.42,"v":235},{"s":"o","g":2,"d":20.48,"v":237},{"s":"o","g":2,"d":20.53,"v":237},{"s":"o","g":2,"d":20.59,"v":235},{"s":"o","g":2,"d":20.65,"v":228},{"s":"o","g":2,"d":20.71,"v":222},{"s":"o","g":2,"d":20.76,"v":190},{"s":"o","g":2,"d":20.80,"v":170},{"s":"o","g":2,"d":20.86,"v":150},{"s":"o","g":2,"d":20.92,"v":180},{"s":"o","g":2,"d":21.00,"v":212},{"s":"o","g":2,"d":21.26,"v":212},{"s":"o","g":2,"d":21.50,"v":220},{"s":"o","g":2,"d":21.74,"v":219},{"s":"o","g":2,"d":21.99,"v":183},{"s":"o","g":2,"d":22.25,"v":128},{"s":"o","g":2,"d":22.50,"v":164},{"s":"o","g":2,"d":22.75,"v":314},{"s":"o","g":2,"d":23.01,"v":128},{"s":"o","g":2,"d":23.06,"v":140},{"s":"o","g":2,"d":23.11,"v":135},{"s":"o","g":2,"d":23.16,"v":125},{"s":"o","g":2,"d":23.22,"v":122},{"s":"o","g":2,"d":23.28,"v":120},
      {"s":"m","g":1,"d":6.86,"v":139},{"s":"m","g":1,"d":6.95,"v":139},{"s":"m","g":1,"d":7.05,"v":139},{"s":"m","g":1,"d":7.15,"v":139},{"s":"m","g":1,"d":7.25,"v":139},{"s":"m","g":1,"d":7.35,"v":139},{"s":"m","g":1,"d":7.45,"v":140},{"s":"m","g":1,"d":7.53,"v":150},{"s":"m","g":1,"d":7.58,"v":194},{"s":"m","g":1,"d":7.63,"v":250},{"s":"m","g":1,"d":7.68,"v":300},{"s":"m","g":1,"d":7.73,"v":350},{"s":"m","g":1,"d":7.78,"v":365},{"s":"m","g":1,"d":7.84,"v":365},{"s":"m","g":1,"d":7.90,"v":355},{"s":"m","g":1,"d":7.96,"v":340},{"s":"m","g":1,"d":8.02,"v":321},{"s":"m","g":1,"d":8.08,"v":290},{"s":"m","g":1,"d":8.14,"v":270},{"s":"m","g":1,"d":8.19,"v":248},{"s":"m","g":1,"d":8.25,"v":220},{"s":"m","g":1,"d":8.31,"v":195},{"s":"m","g":1,"d":8.37,"v":175},{"s":"m","g":1,"d":8.43,"v":150},{"s":"m","g":1,"d":8.49,"v":130},{"s":"m","g":1,"d":8.54,"v":120},{"s":"m","g":1,"d":8.62,"v":118},{"s":"m","g":1,"d":8.70,"v":120},{"s":"m","g":1,"d":8.78,"v":125},{"s":"m","g":1,"d":8.85,"v":150},{"s":"m","g":1,"d":8.90,"v":200},{"s":"m","g":1,"d":8.95,"v":250},{"s":"m","g":1,"d":9.00,"v":290},{"s":"m","g":1,"d":9.06,"v":310},{"s":"m","g":1,"d":9.13,"v":321},{"s":"m","g":1,"d":9.19,"v":340},{"s":"m","g":1,"d":9.25,"v":358},{"s":"m","g":1,"d":9.30,"v":300},{"s":"m","g":1,"d":9.36,"v":212},{"s":"m","g":1,"d":9.42,"v":180},{"s":"m","g":1,"d":9.48,"v":157},{"s":"m","g":1,"d":9.55,"v":145},{"s":"m","g":1,"d":9.62,"v":135},{"s":"m","g":1,"d":9.70,"v":130},{"s":"m","g":1,"d":9.77,"v":128},{"s":"m","g":1,"d":9.84,"v":132},{"s":"m","g":1,"d":9.91,"v":140},{"s":"m","g":1,"d":9.95,"v":146},{"s":"m","g":1,"d":10.00,"v":190},{"s":"m","g":1,"d":10.06,"v":250},{"s":"m","g":1,"d":10.12,"v":285},{"s":"m","g":1,"d":10.18,"v":320},{"s":"m","g":1,"d":10.24,"v":328},{"s":"m","g":1,"d":10.30,"v":325},{"s":"m","g":1,"d":10.36,"v":321},{"s":"m","g":1,"d":10.42,"v":300},{"s":"m","g":1,"d":10.48,"v":280},{"s":"m","g":1,"d":10.53,"v":266},{"s":"m","g":1,"d":10.59,"v":255},{"s":"m","g":1,"d":10.65,"v":250},{"s":"m","g":1,"d":10.71,"v":248},{"s":"m","g":1,"d":10.77,"v":265},{"s":"m","g":1,"d":10.83,"v":295},{"s":"m","g":1,"d":10.88,"v":321},{"s":"m","g":1,"d":10.94,"v":360},{"s":"m","g":1,"d":11.00,"v":394},{"s":"m","g":1,"d":11.06,"v":413},
      {"s":"m","g":2,"d":14.91,"v":358},{"s":"m","g":2,"d":14.95,"v":370},{"s":"m","g":2,"d":14.99,"v":383},{"s":"m","g":2,"d":15.04,"v":395},{"s":"m","g":2,"d":15.08,"v":405},{"s":"m","g":2,"d":15.13,"v":380},{"s":"m","g":2,"d":15.17,"v":350},{"s":"m","g":2,"d":15.21,"v":330},{"s":"m","g":2,"d":15.26,"v":321},{"s":"m","g":2,"d":15.30,"v":300},{"s":"m","g":2,"d":15.34,"v":285},{"s":"m","g":2,"d":15.38,"v":260},{"s":"m","g":2,"d":15.43,"v":230},{"s":"m","g":2,"d":15.46,"v":200},{"s":"m","g":2,"d":15.49,"v":175},{"s":"m","g":2,"d":15.52,"v":150},{"s":"m","g":2,"d":15.55,"v":139},{"s":"m","g":2,"d":15.60,"v":140},{"s":"m","g":2,"d":15.65,"v":145},{"s":"m","g":2,"d":15.70,"v":150},{"s":"m","g":2,"d":15.74,"v":165},{"s":"m","g":2,"d":15.78,"v":175},{"s":"m","g":2,"d":15.84,"v":200},{"s":"m","g":2,"d":15.90,"v":230},{"s":"m","g":2,"d":15.94,"v":376},{"s":"m","g":2,"d":15.98,"v":777},{"s":"m","g":2,"d":16.04,"v":1070},{"s":"m","g":2,"d":16.13,"v":577},{"s":"m","g":2,"d":16.25,"v":358},{"s":"m","g":2,"d":16.43,"v":413},{"s":"m","g":2,"d":16.54,"v":504},{"s":"m","g":2,"d":16.66,"v":588},{"s":"m","g":2,"d":16.74,"v":376},{"s":"m","g":2,"d":16.80,"v":250},{"s":"m","g":2,"d":16.84,"v":175},{"s":"m","g":2,"d":16.87,"v":150},{"s":"m","g":2,"d":16.90,"v":139},{"s":"m","g":2,"d":16.95,"v":135},{"s":"m","g":2,"d":17.00,"v":135},{"s":"m","g":2,"d":17.05,"v":137},{"s":"m","g":2,"d":17.10,"v":140},{"s":"m","g":2,"d":17.15,"v":148},{"s":"m","g":2,"d":17.19,"v":157},{"s":"m","g":2,"d":17.24,"v":190},{"s":"m","g":2,"d":17.28,"v":230},{"s":"m","g":2,"d":17.32,"v":330},{"s":"m","g":2,"d":17.36,"v":449},{"s":"m","g":2,"d":17.42,"v":631},{"s":"m","g":2,"d":17.48,"v":814},{"s":"m","g":2,"d":17.56,"v":960},{"s":"m","g":2,"d":17.66,"v":1076},{"s":"m","g":2,"d":17.72,"v":1150},{"s":"m","g":2,"d":17.78,"v":1000},{"s":"m","g":2,"d":17.81,"v":905},{"s":"m","g":2,"d":17.84,"v":760},{"s":"m","g":2,"d":17.87,"v":595},{"s":"m","g":2,"d":17.92,"v":413},{"s":"m","g":2,"d":17.98,"v":303},{"s":"m","g":2,"d":18.04,"v":212},{"s":"m","g":2,"d":18.08,"v":180},{"s":"m","g":2,"d":18.12,"v":157},{"s":"m","g":2,"d":18.18,"v":140},{"s":"m","g":2,"d":18.24,"v":128},{"s":"m","g":2,"d":18.30,"v":130},{"s":"m","g":2,"d":18.36,"v":135},{"s":"m","g":2,"d":18.43,"v":139},{"s":"m","g":2,"d":18.55,"v":142},{"s":"m","g":2,"d":18.78,"v":145},{"s":"m","g":2,"d":19.01,"v":150},{"s":"m","g":2,"d":19.25,"v":164},{"s":"m","g":2,"d":19.48,"v":157},{"s":"m","g":2,"d":19.55,"v":150},{"s":"m","g":2,"d":19.60,"v":145},{"s":"m","g":2,"d":19.66,"v":140},{"s":"m","g":2,"d":19.72,"v":135},{"s":"m","g":2,"d":19.78,"v":130},{"s":"m","g":2,"d":19.83,"v":128},{"s":"m","g":2,"d":19.89,"v":130},{"s":"m","g":2,"d":19.95,"v":135},{"s":"m","g":2,"d":20.00,"v":140},{"s":"m","g":2,"d":20.06,"v":145},{"s":"m","g":2,"d":20.12,"v":150},{"s":"m","g":2,"d":20.18,"v":155},{"s":"m","g":2,"d":20.24,"v":160},{"s":"m","g":2,"d":20.30,"v":162},{"s":"m","g":2,"d":20.36,"v":165},{"s":"m","g":2,"d":20.42,"v":168},{"s":"m","g":2,"d":20.48,"v":170},{"s":"m","g":2,"d":20.53,"v":172},{"s":"m","g":2,"d":20.59,"v":170},{"s":"m","g":2,"d":20.65,"v":168},{"s":"m","g":2,"d":20.71,"v":165},{"s":"m","g":2,"d":20.77,"v":164},{"s":"m","g":2,"d":21.00,"v":157},{"s":"m","g":2,"d":21.26,"v":150},{"s":"m","g":2,"d":21.50,"v":150},{"s":"m","g":2,"d":21.74,"v":148},{"s":"m","g":2,"d":21.99,"v":145},{"s":"m","g":2,"d":22.25,"v":139},{"s":"m","g":2,"d":22.50,"v":139},{"s":"m","g":2,"d":22.75,"v":139},{"s":"m","g":2,"d":23.01,"v":139},{"s":"m","g":2,"d":23.06,"v":132},{"s":"m","g":2,"d":23.11,"v":125},{"s":"m","g":2,"d":23.16,"v":120},{"s":"m","g":2,"d":23.22,"v":115},{"s":"m","g":2,"d":23.28,"v":113},
      {"s":"s","g":1,"d":6.86,"v":30},{"s":"s","g":1,"d":6.95,"v":30},{"s":"s","g":1,"d":7.05,"v":30},{"s":"s","g":1,"d":7.15,"v":30},{"s":"s","g":1,"d":7.25,"v":30},{"s":"s","g":1,"d":7.35,"v":30},{"s":"s","g":1,"d":7.45,"v":32},{"s":"s","g":1,"d":7.55,"v":47},{"s":"s","g":1,"d":7.62,"v":90},{"s":"s","g":1,"d":7.68,"v":130},{"s":"s","g":1,"d":7.74,"v":160},{"s":"s","g":1,"d":7.80,"v":175},{"s":"s","g":1,"d":7.86,"v":165},{"s":"s","g":1,"d":7.92,"v":140},{"s":"s","g":1,"d":7.97,"v":128},{"s":"s","g":1,"d":8.03,"v":132},{"s":"s","g":1,"d":8.09,"v":139},{"s":"s","g":1,"d":8.15,"v":135},{"s":"s","g":1,"d":8.21,"v":115},{"s":"s","g":1,"d":8.27,"v":95},{"s":"s","g":1,"d":8.33,"v":80},{"s":"s","g":1,"d":8.39,"v":65},{"s":"s","g":1,"d":8.45,"v":50},{"s":"s","g":1,"d":8.52,"v":38},{"s":"s","g":1,"d":8.60,"v":30},{"s":"s","g":1,"d":8.70,"v":25},{"s":"s","g":1,"d":8.80,"v":20},{"s":"s","g":1,"d":8.90,"v":15},{"s":"s","g":1,"d":9.00,"v":12},{"s":"s","g":1,"d":9.10,"v":10},{"s":"s","g":1,"d":9.20,"v":9},{"s":"s","g":1,"d":9.30,"v":8},{"s":"s","g":1,"d":9.40,"v":8},{"s":"s","g":1,"d":9.50,"v":8},{"s":"s","g":1,"d":9.60,"v":9},{"s":"s","g":1,"d":9.70,"v":10},{"s":"s","g":1,"d":9.80,"v":13},{"s":"s","g":1,"d":9.88,"v":18},{"s":"s","g":1,"d":9.95,"v":30},{"s":"s","g":1,"d":10.02,"v":60},{"s":"s","g":1,"d":10.08,"v":90},{"s":"s","g":1,"d":10.14,"v":105},{"s":"s","g":1,"d":10.20,"v":110},{"s":"s","g":1,"d":10.26,"v":100},{"s":"s","g":1,"d":10.32,"v":80},{"s":"s","g":1,"d":10.38,"v":65},{"s":"s","g":1,"d":10.45,"v":50},{"s":"s","g":1,"d":10.52,"v":37},{"s":"s","g":1,"d":10.60,"v":28},{"s":"s","g":1,"d":10.70,"v":22},{"s":"s","g":1,"d":10.80,"v":20},{"s":"s","g":1,"d":10.90,"v":20},{"s":"s","g":1,"d":11.00,"v":20},{"s":"s","g":1,"d":11.06,"v":20},
      {"s":"s","g":2,"d":14.91,"v":30},{"s":"s","g":2,"d":15.00,"v":30},{"s":"s","g":2,"d":15.10,"v":30},{"s":"s","g":2,"d":15.20,"v":29},{"s":"s","g":2,"d":15.30,"v":28},{"s":"s","g":2,"d":15.40,"v":26},{"s":"s","g":2,"d":15.50,"v":20},{"s":"s","g":2,"d":15.58,"v":12},{"s":"s","g":2,"d":15.65,"v":5},{"s":"s","g":2,"d":15.75,"v":0},{"s":"s","g":2,"d":16.00,"v":0},{"s":"s","g":2,"d":16.25,"v":0},{"s":"s","g":2,"d":16.50,"v":0},{"s":"s","g":2,"d":16.75,"v":0},{"s":"s","g":2,"d":17.00,"v":5},{"s":"s","g":2,"d":17.10,"v":12},{"s":"s","g":2,"d":17.20,"v":18},{"s":"s","g":2,"d":17.30,"v":20},{"s":"s","g":2,"d":17.40,"v":22},{"s":"s","g":2,"d":17.50,"v":25},{"s":"s","g":2,"d":17.60,"v":25},{"s":"s","g":2,"d":17.70,"v":25},{"s":"s","g":2,"d":17.80,"v":22},{"s":"s","g":2,"d":17.90,"v":18},{"s":"s","g":2,"d":18.00,"v":12},{"s":"s","g":2,"d":18.10,"v":6},{"s":"s","g":2,"d":18.20,"v":3},{"s":"s","g":2,"d":18.40,"v":0},{"s":"s","g":2,"d":18.78,"v":0},{"s":"s","g":2,"d":19.01,"v":0},{"s":"s","g":2,"d":19.25,"v":0},{"s":"s","g":2,"d":19.50,"v":0},{"s":"s","g":2,"d":19.60,"v":0},{"s":"s","g":2,"d":19.70,"v":0},{"s":"s","g":2,"d":19.80,"v":0},{"s":"s","g":2,"d":19.90,"v":0},{"s":"s","g":2,"d":20.00,"v":0},{"s":"s","g":2,"d":20.10,"v":0},{"s":"s","g":2,"d":20.20,"v":0},{"s":"s","g":2,"d":20.30,"v":0},{"s":"s","g":2,"d":20.40,"v":0},{"s":"s","g":2,"d":20.50,"v":0},{"s":"s","g":2,"d":20.60,"v":0},{"s":"s","g":2,"d":20.70,"v":0},{"s":"s","g":2,"d":21.00,"v":0},{"s":"s","g":2,"d":21.26,"v":0},{"s":"s","g":2,"d":21.50,"v":0},{"s":"s","g":2,"d":21.74,"v":0},{"s":"s","g":2,"d":21.99,"v":0},{"s":"s","g":2,"d":22.25,"v":0},{"s":"s","g":2,"d":22.50,"v":0},{"s":"s","g":2,"d":22.75,"v":0},{"s":"s","g":2,"d":23.01,"v":0},{"s":"s","g":2,"d":23.10,"v":0},{"s":"s","g":2,"d":23.20,"v":0},{"s":"s","g":2,"d":23.28,"v":0},
      {"s":"b","g":1,"d":6.86,"v":40},{"s":"b","g":1,"d":6.95,"v":40},{"s":"b","g":1,"d":7.05,"v":40},{"s":"b","g":1,"d":7.15,"v":40},{"s":"b","g":1,"d":7.25,"v":40},{"s":"b","g":1,"d":7.35,"v":40},{"s":"b","g":1,"d":7.45,"v":42},{"s":"b","g":1,"d":7.55,"v":47},{"s":"b","g":1,"d":7.65,"v":60},{"s":"b","g":1,"d":7.75,"v":80},{"s":"b","g":1,"d":7.85,"v":100},{"s":"b","g":1,"d":7.95,"v":115},{"s":"b","g":1,"d":8.02,"v":120},{"s":"b","g":1,"d":8.08,"v":100},{"s":"b","g":1,"d":8.15,"v":75},{"s":"b","g":1,"d":8.22,"v":55},{"s":"b","g":1,"d":8.30,"v":40},{"s":"b","g":1,"d":8.40,"v":28},{"s":"b","g":1,"d":8.50,"v":22},{"s":"b","g":1,"d":8.60,"v":18},{"s":"b","g":1,"d":8.70,"v":15},{"s":"b","g":1,"d":8.80,"v":14},{"s":"b","g":1,"d":8.90,"v":13},{"s":"b","g":1,"d":9.00,"v":12},{"s":"b","g":1,"d":9.10,"v":12},{"s":"b","g":1,"d":9.20,"v":12},{"s":"b","g":1,"d":9.30,"v":12},{"s":"b","g":1,"d":9.40,"v":12},{"s":"b","g":1,"d":9.50,"v":12},{"s":"b","g":1,"d":9.60,"v":13},{"s":"b","g":1,"d":9.70,"v":14},{"s":"b","g":1,"d":9.80,"v":17},{"s":"b","g":1,"d":9.90,"v":25},{"s":"b","g":1,"d":10.00,"v":50},{"s":"b","g":1,"d":10.08,"v":85},{"s":"b","g":1,"d":10.16,"v":130},{"s":"b","g":1,"d":10.22,"v":165},{"s":"b","g":1,"d":10.28,"v":175},{"s":"b","g":1,"d":10.34,"v":160},{"s":"b","g":1,"d":10.41,"v":139},{"s":"b","g":1,"d":10.48,"v":130},{"s":"b","g":1,"d":10.55,"v":125},{"s":"b","g":1,"d":10.62,"v":130},{"s":"b","g":1,"d":10.71,"v":139},{"s":"b","g":1,"d":10.80,"v":160},{"s":"b","g":1,"d":10.88,"v":183},{"s":"b","g":1,"d":10.97,"v":205},{"s":"b","g":1,"d":11.06,"v":230},
      {"s":"b","g":2,"d":14.91,"v":248},{"s":"b","g":2,"d":14.96,"v":270},{"s":"b","g":2,"d":15.02,"v":285},{"s":"b","g":2,"d":15.08,"v":300},{"s":"b","g":2,"d":15.14,"v":303},{"s":"b","g":2,"d":15.20,"v":270},{"s":"b","g":2,"d":15.26,"v":240},{"s":"b","g":2,"d":15.31,"v":220},{"s":"b","g":2,"d":15.37,"v":194},{"s":"b","g":2,"d":15.43,"v":165},{"s":"b","g":2,"d":15.49,"v":139},{"s":"b","g":2,"d":15.55,"v":84},{"s":"b","g":2,"d":15.61,"v":47},{"s":"b","g":2,"d":15.67,"v":18},{"s":"b","g":2,"d":15.75,"v":0},{"s":"b","g":2,"d":16.00,"v":0},{"s":"b","g":2,"d":16.25,"v":0},{"s":"b","g":2,"d":16.50,"v":0},{"s":"b","g":2,"d":16.75,"v":0},{"s":"b","g":2,"d":17.00,"v":0},{"s":"b","g":2,"d":17.08,"v":10},{"s":"b","g":2,"d":17.13,"v":30},{"s":"b","g":2,"d":17.17,"v":60},{"s":"b","g":2,"d":17.21,"v":102},{"s":"b","g":2,"d":17.25,"v":150},{"s":"b","g":2,"d":17.28,"v":212},{"s":"b","g":2,"d":17.32,"v":290},{"s":"b","g":2,"d":17.36,"v":376},{"s":"b","g":2,"d":17.42,"v":522},{"s":"b","g":2,"d":17.48,"v":704},{"s":"b","g":2,"d":17.56,"v":868},{"s":"b","g":2,"d":17.62,"v":950},{"s":"b","g":2,"d":17.66,"v":990},{"s":"b","g":2,"d":17.71,"v":1033},{"s":"b","g":2,"d":17.76,"v":1010},{"s":"b","g":2,"d":17.81,"v":978},{"s":"b","g":2,"d":17.84,"v":880},{"s":"b","g":2,"d":17.87,"v":759},{"s":"b","g":2,"d":17.92,"v":485},{"s":"b","g":2,"d":17.98,"v":285},{"s":"b","g":2,"d":18.04,"v":139},{"s":"b","g":2,"d":18.08,"v":80},{"s":"b","g":2,"d":18.12,"v":47},{"s":"b","g":2,"d":18.18,"v":15},{"s":"b","g":2,"d":18.25,"v":0},{"s":"b","g":2,"d":18.50,"v":0},{"s":"b","g":2,"d":18.78,"v":20},{"s":"b","g":2,"d":18.90,"v":40},{"s":"b","g":2,"d":19.01,"v":45},{"s":"b","g":2,"d":19.15,"v":40},{"s":"b","g":2,"d":19.25,"v":20},{"s":"b","g":2,"d":19.40,"v":0},{"s":"b","g":2,"d":19.60,"v":0},{"s":"b","g":2,"d":19.70,"v":0},{"s":"b","g":2,"d":19.80,"v":0},{"s":"b","g":2,"d":19.90,"v":0},{"s":"b","g":2,"d":20.00,"v":0},{"s":"b","g":2,"d":20.10,"v":0},{"s":"b","g":2,"d":20.20,"v":0},{"s":"b","g":2,"d":20.30,"v":0},{"s":"b","g":2,"d":20.40,"v":0},{"s":"b","g":2,"d":20.50,"v":0},{"s":"b","g":2,"d":20.60,"v":0},{"s":"b","g":2,"d":20.70,"v":0},{"s":"b","g":2,"d":21.00,"v":0},{"s":"b","g":2,"d":21.26,"v":0},{"s":"b","g":2,"d":21.50,"v":0},{"s":"b","g":2,"d":21.74,"v":0},{"s":"b","g":2,"d":21.99,"v":0},{"s":"b","g":2,"d":22.25,"v":0},{"s":"b","g":2,"d":22.50,"v":0},{"s":"b","g":2,"d":22.75,"v":0},{"s":"b","g":2,"d":23.01,"v":0},{"s":"b","g":2,"d":23.10,"v":0},{"s":"b","g":2,"d":23.20,"v":0},{"s":"b","g":2,"d":23.28,"v":0}
    ]
  },
  "spacing": 2,
  "vconcat": [
    {
      "width": 492, "height": 137,
      "title": {"text": "(a) 9月", "dx": -24, "offset": 3},
      "layer": [
        {
          "data": {"name": "sa"},
          "mark": {"type": "rect", "color": "#e5e5e5"},
          "encoding": {
            "x": {"field": "d1", "type": "quantitative", "scale": {"domain": [6.5, 23.77], "nice": false, "zero": false},
                  "axis": {"orient": "bottom", "values": [7,8,9,10,11,12,13,14,15,16,17,18,19,20,21,22,23], "format": "d", "labelExpr": "datum.value >= 23 ? '' : datum.label", "labelOffset": 14.25, "tickSize": 5, "labelPadding": 0, "labelFlush": false, "labelOverlap": false, "title": "day", "titlePadding": 1}},
            "x2": {"field": "d2"},
            "y": {"datum": 0, "type": "quantitative", "scale": {"domain": [0, 1500], "nice": false},
                  "axis": {"orient": "left", "values": [100,200,300,400,500,600,700,800,900,1000,1100,1200,1300,1400], "labels": false, "title": null, "tickSize": -6}},
            "y2": {"datum": 1500}
          }
        },
        {
          "data": {"name": "sa"},
          "mark": {"type": "text", "font": "Liberation Sans", "fontSize": 13, "color": "#000000", "align": "center", "baseline": "middle"},
          "encoding": {
            "x": {"field": "lx", "type": "quantitative", "scale": {"domain": [6.5, 23.77], "nice": false, "zero": false},
                  "axis": {"orient": "top", "values": [7,8,9,10,11,12,13,14,15,16,17,18,19,20,21,22,23], "labels": false, "tickSize": 4, "title": null}},
            "y": {"datum": 1360, "type": "quantitative", "scale": {"domain": [0, 1500], "nice": false},
                  "axis": {"orient": "left", "values": [0, 500, 1000, 1500], "format": "d", "ticks": false, "labelPadding": 4, "labelFlush": false, "labelOverlap": false, "title": "CO [ppb]", "titlePadding": 9}},
            "text": {"field": "lab"}
          }
        },
        {
          "data": {"name": "a"},
          "encoding": {
            "x": {"field": "d", "type": "quantitative", "scale": {"domain": [6.5, 23.77], "nice": false, "zero": false}, "axis": null},
            "y": {"field": "v", "type": "quantitative", "scale": {"domain": [0, 1500], "nice": false},
                  "axis": {"orient": "right", "values": [100,200,300,400,500,600,700,800,900,1000,1100,1200,1300,1400], "labels": false, "title": null, "tickSize": -6}},
            "color": {"field": "s", "type": "nominal",
                      "scale": {"domain": ["o", "m", "s", "x1", "x2", "b"], "range": ["#333333", "#ff2020", "#1a1aff", "transparent", "transparent", "#00dede"]},
                      "legend": {"labelExpr": "datum.value === 'o' ? '観測　' : datum.value === 'm' ? 'モデル' : datum.value === 's' ? 'モデル(スマトラ島の火災起源)' : datum.value === 'b' ? 'モデル(ボルネオ島の火災起源)' : ''"}},
            "detail": {"field": "g", "type": "nominal"}
          },
          "layer": [
            {"transform": [{"filter": "datum.s === 'o'"}], "mark": {"type": "line", "strokeWidth": 1}},
            {"transform": [{"filter": "datum.s === 'o'"}], "mark": {"type": "point", "shape": "circle", "filled": true, "size": 28, "opacity": 1},
             "encoding": {"color": {"value": "#000000"},
                          "fill": {"field": "s", "type": "nominal",
                                   "scale": {"domain": ["o", "m", "s", "x1", "x2", "b"], "range": ["#000000", "transparent", "transparent", "transparent", "transparent", "transparent"]},
                                   "legend": {"labelExpr": "datum.value === 'o' ? '観測　' : datum.value === 'm' ? 'モデル' : datum.value === 's' ? 'モデル(スマトラ島の火災起源)' : datum.value === 'b' ? 'モデル(ボルネオ島の火災起源)' : ''"}}}},
            {"transform": [{"filter": "datum.s !== 'o'"}], "mark": {"type": "line", "strokeWidth": 1}},
            {"transform": [{"filter": "datum.s !== 'o'"}], "mark": {"type": "point", "shape": "circle", "filled": false, "size": 14, "strokeWidth": 1, "opacity": 1}}
          ]
        }
      ],
      "resolve": {"axis": {"x": "independent", "y": "independent"}}
    },
    {
      "width": 492, "height": 137,
      "title": {"text": "(b) 10月", "dx": -24, "offset": 3},
      "layer": [
        {
          "data": {"name": "sb"},
          "mark": {"type": "rect", "color": "#e5e5e5"},
          "encoding": {
            "x": {"field": "d1", "type": "quantitative", "scale": {"domain": [6.5, 23.77], "nice": false, "zero": false},
                  "axis": {"orient": "bottom", "values": [7,8,9,10,11,12,13,14,15,16,17,18,19,20,21,22,23], "format": "d", "labelExpr": "datum.value >= 23 ? '' : datum.label", "labelOffset": 14.25, "tickSize": 5, "labelPadding": 0, "labelFlush": false, "labelOverlap": false, "title": "day", "titlePadding": 1}},
            "x2": {"field": "d2"},
            "y": {"datum": 0, "type": "quantitative", "scale": {"domain": [0, 1500], "nice": false},
                  "axis": {"orient": "left", "values": [100,200,300,400,500,600,700,800,900,1000,1100,1200,1300,1400], "labels": false, "title": null, "tickSize": -6}},
            "y2": {"datum": 1500}
          }
        },
        {
          "data": {"name": "sb"},
          "mark": {"type": "text", "font": "Liberation Sans", "fontSize": 13, "color": "#000000", "align": "center", "baseline": "middle"},
          "encoding": {
            "x": {"field": "lx", "type": "quantitative", "scale": {"domain": [6.5, 23.77], "nice": false, "zero": false},
                  "axis": {"orient": "top", "values": [7,8,9,10,11,12,13,14,15,16,17,18,19,20,21,22,23], "labels": false, "tickSize": 4, "title": null}},
            "y": {"datum": 1360, "type": "quantitative", "scale": {"domain": [0, 1500], "nice": false},
                  "axis": {"orient": "left", "values": [0, 500, 1000, 1500], "format": "d", "ticks": false, "labelPadding": 4, "labelFlush": false, "labelOverlap": false, "title": "CO [ppb]", "titlePadding": 9}},
            "text": {"field": "lab"}
          }
        },
        {
          "data": {"name": "b"},
          "encoding": {
            "x": {"field": "d", "type": "quantitative", "scale": {"domain": [6.5, 23.77], "nice": false, "zero": false}, "axis": null},
            "y": {"field": "v", "type": "quantitative", "scale": {"domain": [0, 1500], "nice": false},
                  "axis": {"orient": "right", "values": [100,200,300,400,500,600,700,800,900,1000,1100,1200,1300,1400], "labels": false, "title": null, "tickSize": -6}},
            "color": {"field": "s", "type": "nominal",
                      "scale": {"domain": ["o", "m", "s", "x1", "x2", "b"], "range": ["#333333", "#ff2020", "#1a1aff", "transparent", "transparent", "#00dede"]},
                      "legend": {"labelExpr": "datum.value === 'o' ? '観測　' : datum.value === 'm' ? 'モデル' : datum.value === 's' ? 'モデル(スマトラ島の火災起源)' : datum.value === 'b' ? 'モデル(ボルネオ島の火災起源)' : ''"}},
            "detail": {"field": "g", "type": "nominal"}
          },
          "layer": [
            {"transform": [{"filter": "datum.s === 'o'"}], "mark": {"type": "line", "strokeWidth": 1}},
            {"transform": [{"filter": "datum.s === 'o'"}], "mark": {"type": "point", "shape": "circle", "filled": true, "size": 28, "opacity": 1},
             "encoding": {"color": {"value": "#000000"},
                          "fill": {"field": "s", "type": "nominal",
                                   "scale": {"domain": ["o", "m", "s", "x1", "x2", "b"], "range": ["#000000", "transparent", "transparent", "transparent", "transparent", "transparent"]},
                                   "legend": {"labelExpr": "datum.value === 'o' ? '観測　' : datum.value === 'm' ? 'モデル' : datum.value === 's' ? 'モデル(スマトラ島の火災起源)' : datum.value === 'b' ? 'モデル(ボルネオ島の火災起源)' : ''"}}}},
            {"transform": [{"filter": "datum.s !== 'o'"}], "mark": {"type": "line", "strokeWidth": 1}},
            {"transform": [{"filter": "datum.s !== 'o'"}], "mark": {"type": "point", "shape": "circle", "filled": false, "size": 14, "strokeWidth": 1, "opacity": 1}}
          ]
        }
      ],
      "resolve": {"axis": {"x": "independent", "y": "independent"}}
    }
  ]
}
